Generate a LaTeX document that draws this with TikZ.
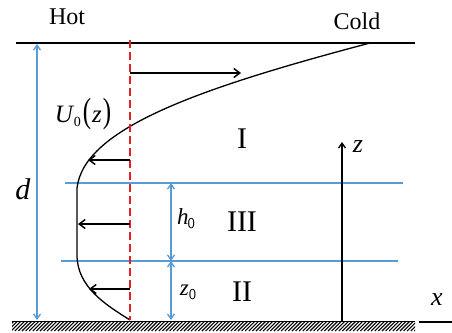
\documentclass[tikz,border=0pt]{standalone}
\usepackage{fontspec}
\usepackage{graphicx}
\setmainfont{Liberation Serif}
\usetikzlibrary{arrows.meta}
\definecolor{lblue}{RGB}{91,155,213}
\definecolor{dred}{RGB}{230,30,40}
\tikzset{
  wall/.style={line width=1.3pt,black},
  bluel/.style={line width=1.3pt,lblue},
  bluedim/.style={line width=1.3pt,lblue,{Straight Barb[length=5pt,width=7pt]}-{Straight Barb[length=5pt,width=7pt]}},
  velarrow/.style={line width=1.5pt,black,-{Straight Barb[length=6pt,width=9pt]}},
  reddash/.style={line width=1.6pt,dred,dash pattern=on 8pt off 4pt},
  profile/.style={line width=1.3pt,black},
  lbl/.style={inner sep=0pt,font=\fontsize{24}{26}\selectfont},
  roman/.style={inner sep=0pt,font=\fontsize{30}{32}\selectfont},
}
\begin{document}
\begin{tikzpicture}[x=1pt,y=-1pt]
\useasboundingbox (0,0) rectangle (452,332);
% ground hatch
\begin{scope}
\clip (12,321) rectangle (415,331);
\foreach \i in {0,3.6,...,420} {
  \draw[line width=1.1pt] (\i+4,331) -- (\i+14,321);
}
\end{scope}
\draw[line width=1pt] (12,321) -- (415,321);
% coordinates
\coordinate (topL) at (16,43);
\coordinate (topR) at (415,43);
\coordinate (dTop) at (37,44);
\coordinate (dBot) at (37,320);
\coordinate (redTop) at (130,40);
\coordinate (redBot) at (130,320);
\coordinate (bl1L) at (65,183);
\coordinate (bl1R) at (403,183);
\coordinate (bl2L) at (61,261);
\coordinate (bl2R) at (398,261);
\coordinate (hTop) at (171,183);
\coordinate (hMid) at (171,261);
\coordinate (hBot) at (171,320);
\coordinate (zBase) at (342,321);
\coordinate (zTip) at (342,142);
\coordinate (xL) at (419,322);
\coordinate (xR) at (452,322);
\coordinate (a1s) at (130,73);
\coordinate (a1e) at (241,73);
\coordinate (a2s) at (130,160);
\coordinate (a2e) at (88,160);
\coordinate (a3s) at (130,224);
\coordinate (a3e) at (78,224);
\coordinate (a4s) at (130,289);
\coordinate (a4e) at (89,289);
% walls
\draw[wall] (topL) -- (topR);
\draw[wall] (xL) -- (xR);
% blue
\draw[bluedim] (dTop) -- (dBot);
\draw[bluel] (bl1L) -- (bl1R);
\draw[bluel] (bl2L) -- (bl2R);
\draw[bluedim] (hTop) -- (hMid);
\draw[bluedim] (hMid) -- (hBot);
% profile
\draw[profile] (370,43) .. controls (200,88) and (84,128) .. (77,188) -- (77,255) .. controls (77,287) and (106,305) .. (130,320);
% red dashed
\draw[reddash] (redTop) -- (redBot);
% velocity arrows
\draw[velarrow] (a1s) -- (a1e);
\draw[velarrow] (a2s) -- (a2e);
\draw[velarrow] (a3s) -- (a3e);
\draw[velarrow] (a4s) -- (a4e);
% z axis
\draw[line width=1.3pt,-{Straight Barb[length=5pt,width=7pt]}] (zBase) -- (zTip);
% labels
\node[lbl] (hot) at (67,17) {Hot};
\node[lbl] (cold) at (357,21) {Cold};
\node[inner sep=0pt,font=\fontsize{30}{32}\selectfont\itshape] (dl) at (23,189) {d};
\node[inner sep=0pt,font=\fontsize{25}{27}\selectfont] (ul) at (83,114) {\itshape U\kern1pt\raisebox{-4pt}{\fontsize{14}{15}\selectfont\upshape 0}\kern2pt\scalebox{1}[1.4]{\upshape(}\kern1pt z\kern1pt\scalebox{1}[1.4]{\upshape)}};
\node[inner sep=0pt,font=\fontsize{23}{25}\selectfont\itshape] (hl) at (186,219) {h\kern-1pt\raisebox{-4pt}{\fontsize{15}{16}\selectfont\upshape\sffamily 0}};
\node[inner sep=0pt,font=\fontsize{23}{25}\selectfont\itshape] (zl) at (188,292) {z\raisebox{-4pt}{\fontsize{15}{16}\selectfont\upshape\sffamily 0}};
\node[roman] (r1) at (242,139) {I};
\node[roman] (r3) at (242,222) {III};
\node[roman] (r2) at (242,292) {II};
\node[inner sep=0pt,font=\fontsize{26}{28}\selectfont\itshape] (zax) at (358,147) {z};
\node[inner sep=0pt,font=\fontsize{26}{28}\selectfont\itshape] (xax) at (437,300) {x};
\end{tikzpicture}
\end{document}
